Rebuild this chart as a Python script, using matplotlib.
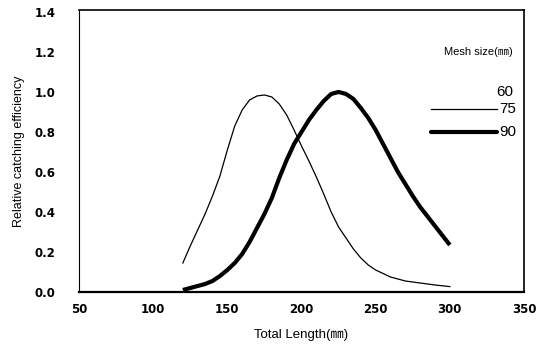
import matplotlib
matplotlib.use("Agg")
import matplotlib.pyplot as plt

# mesh size 75 mm (thin curve)
len_75 = [120, 125, 130, 135, 140, 145, 150, 155, 160, 165, 170, 175, 180, 185,
          190, 195, 200, 205, 210, 215, 220, 225, 230, 235, 240, 245, 250,
          260, 270, 280, 290, 300]
eff_75 = [0.145, 0.23, 0.31, 0.39, 0.48, 0.58, 0.71, 0.83, 0.91, 0.96, 0.98, 0.985, 0.975, 0.94,
          0.885, 0.81, 0.73, 0.655, 0.575, 0.49, 0.40, 0.325, 0.27, 0.215, 0.17, 0.135, 0.11,
          0.075, 0.055, 0.045, 0.035, 0.027]

# mesh size 90 mm (thick curve)
len_90 = [120, 125, 130, 135, 140, 145, 150, 155, 160, 165, 170, 175, 180, 185,
          190, 195, 200, 205, 210, 215, 220, 225, 230, 235, 240, 245, 250,
          255, 260, 265, 270, 275, 280, 290, 300]
eff_90 = [0.01, 0.02, 0.03, 0.04, 0.055, 0.08, 0.11, 0.145, 0.19, 0.25, 0.32, 0.39, 0.47, 0.57,
          0.66, 0.74, 0.80, 0.86, 0.91, 0.955, 0.99, 1.0, 0.99, 0.965, 0.92, 0.87, 0.81,
          0.74, 0.67, 0.60, 0.54, 0.48, 0.425, 0.33, 0.235]

x_ticks = [50, 100, 150, 200, 250, 300, 350]
y_ticks = [0.0, 0.2, 0.4, 0.6, 0.8, 1.0, 1.2, 1.4]

cjk = ['Liberation Sans', 'Noto Sans CJK KR']

fig = plt.figure(figsize=(5.43, 3.53), dpi=100)
ax = fig.add_axes([0.1455, 0.1728, 0.8195, 0.799])

ax.plot(len_75, eff_75, color='black', lw=0.9)
ax.plot(len_90, eff_90, color='black', lw=3.0, solid_capstyle='butt',
        solid_joinstyle='round')

ax.set_xlim(50, 350)
ax.set_ylim(0, 1.41)
ax.set_xticks(x_ticks)
ax.set_yticks(y_ticks)
ax.set_yticklabels(['%.1f' % v for v in y_ticks])
ax.tick_params(length=0, labelsize=8.5)
ax.tick_params(axis='x', pad=8)
ax.tick_params(axis='y', pad=17)
for lab in ax.get_xticklabels() + ax.get_yticklabels():
    lab.set_fontweight('bold')

for side in ['top', 'right']:
    ax.spines[side].set_linewidth(1.2)
ax.spines['left'].set_linewidth(0.8)
ax.spines['bottom'].set_linewidth(1.6)

ax.set_xlabel('Total Length(㎜)', family=cjk, fontsize=9.5, labelpad=9)
ax.set_ylabel('Relative catching efficiency', family=cjk, fontsize=9, labelpad=7)

# hand-made legend
tr = ax.get_yaxis_transform()
ax.text(0.975, 1.2, 'Mesh size(㎜)', transform=tr,
        ha='right', va='center', family=cjk, fontsize=8)
ax.text(0.975, 1.0, '60', transform=tr,
        ha='right', va='center', family=cjk, fontsize=11)
ax.plot([0.79, 0.94], [0.915, 0.915], transform=tr, color='black', lw=0.9)
ax.text(0.945, 0.915, '75', transform=tr,
        ha='left', va='center', family=cjk, fontsize=11)
ax.plot([0.79, 0.94], [0.8, 0.8], transform=tr, color='black', lw=3.0,
        solid_capstyle='round')
ax.text(0.945, 0.8, '90', transform=tr,
        ha='left', va='center', family=cjk, fontsize=11)

fig.savefig('out.png', dpi=100)
